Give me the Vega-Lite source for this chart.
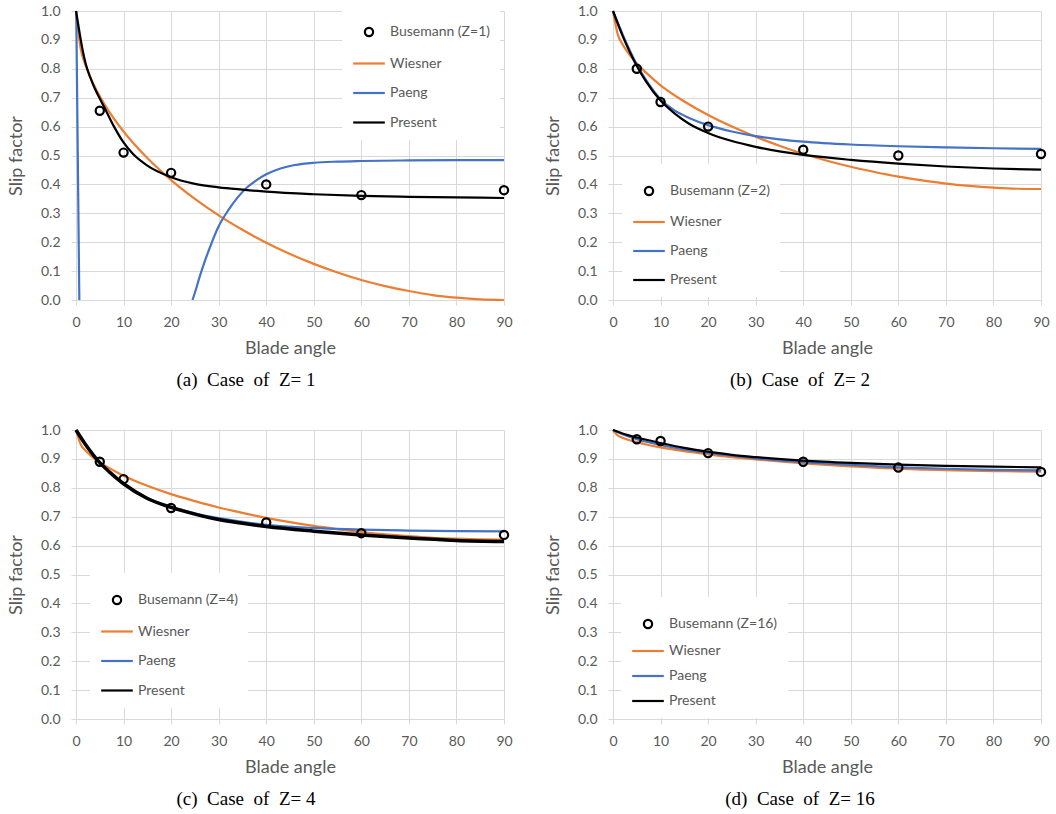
{
  "$schema": "https://vega.github.io/schema/vega-lite/v6.json",
  "padding": {"left": 7, "top": 4, "right": 0, "bottom": 0},
  "spacing": 33,
  "resolve": {"scale": {"color": "independent", "shape": "independent"}},
  "datasets": {
    "la": [
      {"series": "Wiesner", "a": 0, "s": 1.0}, {"series": "Wiesner", "a": 1, "s": 0.868}, {"series": "Wiesner", "a": 2, "s": 0.813}, {"series": "Wiesner", "a": 3, "s": 0.771}, {"series": "Wiesner", "a": 5, "s": 0.705}, {"series": "Wiesner", "a": 7, "s": 0.651}, {"series": "Wiesner", "a": 10, "s": 0.583}, {"series": "Wiesner", "a": 15, "s": 0.491}, {"series": "Wiesner", "a": 20, "s": 0.415}, {"series": "Wiesner", "a": 25, "s": 0.35}, {"series": "Wiesner", "a": 30, "s": 0.293}, {"series": "Wiesner", "a": 35, "s": 0.243}, {"series": "Wiesner", "a": 40, "s": 0.198}, {"series": "Wiesner", "a": 45, "s": 0.159}, {"series": "Wiesner", "a": 50, "s": 0.125}, {"series": "Wiesner", "a": 55, "s": 0.095}, {"series": "Wiesner", "a": 60, "s": 0.069}, {"series": "Wiesner", "a": 65, "s": 0.048}, {"series": "Wiesner", "a": 70, "s": 0.031}, {"series": "Wiesner", "a": 75, "s": 0.017}, {"series": "Wiesner", "a": 80, "s": 0.008}, {"series": "Wiesner", "a": 85, "s": 0.002}, {"series": "Wiesner", "a": 90, "s": 0.0},
      {"series": "Paeng", "seg": 1, "a": 0.05, "s": 1.0}, {"series": "Paeng", "seg": 1, "a": 0.7, "s": 0.0},
      {"series": "Paeng", "seg": 2, "a": 24.5, "s": 0.0}, {"series": "Paeng", "seg": 2, "a": 25, "s": 0.025}, {"series": "Paeng", "seg": 2, "a": 26, "s": 0.08}, {"series": "Paeng", "seg": 2, "a": 27, "s": 0.13}, {"series": "Paeng", "seg": 2, "a": 28, "s": 0.175}, {"series": "Paeng", "seg": 2, "a": 30, "s": 0.255}, {"series": "Paeng", "seg": 2, "a": 32, "s": 0.31}, {"series": "Paeng", "seg": 2, "a": 34, "s": 0.355}, {"series": "Paeng", "seg": 2, "a": 36, "s": 0.39}, {"series": "Paeng", "seg": 2, "a": 38, "s": 0.415}, {"series": "Paeng", "seg": 2, "a": 40, "s": 0.435}, {"series": "Paeng", "seg": 2, "a": 43, "s": 0.455}, {"series": "Paeng", "seg": 2, "a": 46, "s": 0.467}, {"series": "Paeng", "seg": 2, "a": 50, "s": 0.475}, {"series": "Paeng", "seg": 2, "a": 55, "s": 0.479}, {"series": "Paeng", "seg": 2, "a": 60, "s": 0.481}, {"series": "Paeng", "seg": 2, "a": 70, "s": 0.483}, {"series": "Paeng", "seg": 2, "a": 80, "s": 0.484}, {"series": "Paeng", "seg": 2, "a": 90, "s": 0.484},
      {"series": "Present", "a": 0, "s": 1.0}, {"series": "Present", "a": 0.5, "s": 0.95}, {"series": "Present", "a": 1, "s": 0.9}, {"series": "Present", "a": 2, "s": 0.82}, {"series": "Present", "a": 3, "s": 0.77}, {"series": "Present", "a": 4, "s": 0.73}, {"series": "Present", "a": 5, "s": 0.697}, {"series": "Present", "a": 6, "s": 0.665}, {"series": "Present", "a": 8, "s": 0.6}, {"series": "Present", "a": 10, "s": 0.545}, {"series": "Present", "a": 12, "s": 0.505}, {"series": "Present", "a": 15, "s": 0.465}, {"series": "Present", "a": 20, "s": 0.425}, {"series": "Present", "a": 25, "s": 0.402}, {"series": "Present", "a": 30, "s": 0.39}, {"series": "Present", "a": 35, "s": 0.382}, {"series": "Present", "a": 40, "s": 0.375}, {"series": "Present", "a": 50, "s": 0.366}, {"series": "Present", "a": 60, "s": 0.36}, {"series": "Present", "a": 70, "s": 0.357}, {"series": "Present", "a": 80, "s": 0.355}, {"series": "Present", "a": 90, "s": 0.353}
    ],
    "pa": [
      {"series": "Busemann (Z=1)", "a": 5, "s": 0.655}, {"series": "Busemann (Z=1)", "a": 10, "s": 0.51}, {"series": "Busemann (Z=1)", "a": 20, "s": 0.44}, {"series": "Busemann (Z=1)", "a": 40, "s": 0.40}, {"series": "Busemann (Z=1)", "a": 60, "s": 0.363}, {"series": "Busemann (Z=1)", "a": 90, "s": 0.38}
    ],
    "lb": [
      {"series": "Wiesner", "a": 0, "s": 1.0}, {"series": "Wiesner", "a": 1, "s": 0.919}, {"series": "Wiesner", "a": 2, "s": 0.885}, {"series": "Wiesner", "a": 3, "s": 0.859}, {"series": "Wiesner", "a": 5, "s": 0.818}, {"series": "Wiesner", "a": 7, "s": 0.786}, {"series": "Wiesner", "a": 10, "s": 0.743}, {"series": "Wiesner", "a": 15, "s": 0.687}, {"series": "Wiesner", "a": 20, "s": 0.64}, {"series": "Wiesner", "a": 25, "s": 0.6}, {"series": "Wiesner", "a": 30, "s": 0.565}, {"series": "Wiesner", "a": 35, "s": 0.534}, {"series": "Wiesner", "a": 40, "s": 0.506}, {"series": "Wiesner", "a": 45, "s": 0.482}, {"series": "Wiesner", "a": 50, "s": 0.461}, {"series": "Wiesner", "a": 55, "s": 0.443}, {"series": "Wiesner", "a": 60, "s": 0.427}, {"series": "Wiesner", "a": 65, "s": 0.414}, {"series": "Wiesner", "a": 70, "s": 0.403}, {"series": "Wiesner", "a": 75, "s": 0.395}, {"series": "Wiesner", "a": 80, "s": 0.389}, {"series": "Wiesner", "a": 85, "s": 0.385}, {"series": "Wiesner", "a": 90, "s": 0.384},
      {"series": "Paeng", "a": 0, "s": 1.0}, {"series": "Paeng", "a": 2, "s": 0.92}, {"series": "Paeng", "a": 5, "s": 0.815}, {"series": "Paeng", "a": 7, "s": 0.76}, {"series": "Paeng", "a": 10, "s": 0.695}, {"series": "Paeng", "a": 13, "s": 0.655}, {"series": "Paeng", "a": 16, "s": 0.63}, {"series": "Paeng", "a": 20, "s": 0.605}, {"series": "Paeng", "a": 25, "s": 0.583}, {"series": "Paeng", "a": 30, "s": 0.567}, {"series": "Paeng", "a": 35, "s": 0.556}, {"series": "Paeng", "a": 40, "s": 0.548}, {"series": "Paeng", "a": 50, "s": 0.538}, {"series": "Paeng", "a": 60, "s": 0.532}, {"series": "Paeng", "a": 70, "s": 0.528}, {"series": "Paeng", "a": 80, "s": 0.525}, {"series": "Paeng", "a": 90, "s": 0.523},
      {"series": "Present", "a": 0, "s": 1.0}, {"series": "Present", "a": 2, "s": 0.915}, {"series": "Present", "a": 5, "s": 0.81}, {"series": "Present", "a": 7, "s": 0.755}, {"series": "Present", "a": 10, "s": 0.69}, {"series": "Present", "a": 13, "s": 0.645}, {"series": "Present", "a": 16, "s": 0.61}, {"series": "Present", "a": 20, "s": 0.578}, {"series": "Present", "a": 25, "s": 0.55}, {"series": "Present", "a": 30, "s": 0.53}, {"series": "Present", "a": 35, "s": 0.514}, {"series": "Present", "a": 40, "s": 0.502}, {"series": "Present", "a": 50, "s": 0.485}, {"series": "Present", "a": 60, "s": 0.472}, {"series": "Present", "a": 70, "s": 0.462}, {"series": "Present", "a": 80, "s": 0.455}, {"series": "Present", "a": 90, "s": 0.451}
    ],
    "pb": [
      {"series": "Busemann (Z=2)", "a": 5, "s": 0.80}, {"series": "Busemann (Z=2)", "a": 10, "s": 0.685}, {"series": "Busemann (Z=2)", "a": 20, "s": 0.60}, {"series": "Busemann (Z=2)", "a": 40, "s": 0.52}, {"series": "Busemann (Z=2)", "a": 60, "s": 0.50}, {"series": "Busemann (Z=2)", "a": 90, "s": 0.505}
    ],
    "lc": [
      {"series": "Wiesner", "a": 0, "s": 1.0}, {"series": "Wiesner", "a": 1, "s": 0.95}, {"series": "Wiesner", "a": 2, "s": 0.929}, {"series": "Wiesner", "a": 3, "s": 0.913}, {"series": "Wiesner", "a": 5, "s": 0.888}, {"series": "Wiesner", "a": 7, "s": 0.868}, {"series": "Wiesner", "a": 10, "s": 0.842}, {"series": "Wiesner", "a": 15, "s": 0.807}, {"series": "Wiesner", "a": 20, "s": 0.778}, {"series": "Wiesner", "a": 25, "s": 0.754}, {"series": "Wiesner", "a": 30, "s": 0.732}, {"series": "Wiesner", "a": 35, "s": 0.713}, {"series": "Wiesner", "a": 40, "s": 0.696}, {"series": "Wiesner", "a": 45, "s": 0.681}, {"series": "Wiesner", "a": 50, "s": 0.668}, {"series": "Wiesner", "a": 55, "s": 0.657}, {"series": "Wiesner", "a": 60, "s": 0.647}, {"series": "Wiesner", "a": 65, "s": 0.639}, {"series": "Wiesner", "a": 70, "s": 0.633}, {"series": "Wiesner", "a": 75, "s": 0.627}, {"series": "Wiesner", "a": 80, "s": 0.624}, {"series": "Wiesner", "a": 85, "s": 0.622}, {"series": "Wiesner", "a": 90, "s": 0.621},
      {"series": "Paeng", "a": 0, "s": 1.0}, {"series": "Paeng", "a": 2, "s": 0.95}, {"series": "Paeng", "a": 5, "s": 0.887}, {"series": "Paeng", "a": 7, "s": 0.855}, {"series": "Paeng", "a": 10, "s": 0.815}, {"series": "Paeng", "a": 15, "s": 0.765}, {"series": "Paeng", "a": 20, "s": 0.735}, {"series": "Paeng", "a": 25, "s": 0.712}, {"series": "Paeng", "a": 30, "s": 0.695}, {"series": "Paeng", "a": 35, "s": 0.682}, {"series": "Paeng", "a": 40, "s": 0.672}, {"series": "Paeng", "a": 50, "s": 0.661}, {"series": "Paeng", "a": 60, "s": 0.655}, {"series": "Paeng", "a": 70, "s": 0.652}, {"series": "Paeng", "a": 80, "s": 0.65}, {"series": "Paeng", "a": 90, "s": 0.649},
      {"series": "Present", "a": 0, "s": 1.0}, {"series": "Present", "a": 2, "s": 0.95}, {"series": "Present", "a": 5, "s": 0.887}, {"series": "Present", "a": 7, "s": 0.855}, {"series": "Present", "a": 10, "s": 0.814}, {"series": "Present", "a": 15, "s": 0.763}, {"series": "Present", "a": 20, "s": 0.732}, {"series": "Present", "a": 25, "s": 0.709}, {"series": "Present", "a": 30, "s": 0.69}, {"series": "Present", "a": 35, "s": 0.677}, {"series": "Present", "a": 40, "s": 0.666}, {"series": "Present", "a": 50, "s": 0.65}, {"series": "Present", "a": 60, "s": 0.637}, {"series": "Present", "a": 70, "s": 0.626}, {"series": "Present", "a": 80, "s": 0.618}, {"series": "Present", "a": 90, "s": 0.614}
    ],
    "pc": [
      {"series": "Busemann (Z=4)", "a": 5, "s": 0.89}, {"series": "Busemann (Z=4)", "a": 10, "s": 0.83}, {"series": "Busemann (Z=4)", "a": 20, "s": 0.73}, {"series": "Busemann (Z=4)", "a": 40, "s": 0.68}, {"series": "Busemann (Z=4)", "a": 60, "s": 0.643}, {"series": "Busemann (Z=4)", "a": 90, "s": 0.637}
    ],
    "ld": [
      {"series": "Wiesner", "a": 0, "s": 1.0}, {"series": "Wiesner", "a": 1, "s": 0.981}, {"series": "Wiesner", "a": 2, "s": 0.973}, {"series": "Wiesner", "a": 3, "s": 0.967}, {"series": "Wiesner", "a": 5, "s": 0.958}, {"series": "Wiesner", "a": 7, "s": 0.95}, {"series": "Wiesner", "a": 10, "s": 0.94}, {"series": "Wiesner", "a": 15, "s": 0.927}, {"series": "Wiesner", "a": 20, "s": 0.916}, {"series": "Wiesner", "a": 25, "s": 0.906}, {"series": "Wiesner", "a": 30, "s": 0.898}, {"series": "Wiesner", "a": 35, "s": 0.891}, {"series": "Wiesner", "a": 40, "s": 0.885}, {"series": "Wiesner", "a": 45, "s": 0.879}, {"series": "Wiesner", "a": 50, "s": 0.874}, {"series": "Wiesner", "a": 55, "s": 0.87}, {"series": "Wiesner", "a": 60, "s": 0.866}, {"series": "Wiesner", "a": 65, "s": 0.863}, {"series": "Wiesner", "a": 70, "s": 0.861}, {"series": "Wiesner", "a": 75, "s": 0.859}, {"series": "Wiesner", "a": 80, "s": 0.858}, {"series": "Wiesner", "a": 85, "s": 0.857}, {"series": "Wiesner", "a": 90, "s": 0.856},
      {"series": "Paeng", "a": 0, "s": 1.0}, {"series": "Paeng", "a": 2, "s": 0.985}, {"series": "Paeng", "a": 5, "s": 0.968}, {"series": "Paeng", "a": 10, "s": 0.948}, {"series": "Paeng", "a": 15, "s": 0.933}, {"series": "Paeng", "a": 20, "s": 0.921}, {"series": "Paeng", "a": 25, "s": 0.911}, {"series": "Paeng", "a": 30, "s": 0.902}, {"series": "Paeng", "a": 40, "s": 0.889}, {"series": "Paeng", "a": 50, "s": 0.879}, {"series": "Paeng", "a": 60, "s": 0.871}, {"series": "Paeng", "a": 70, "s": 0.866}, {"series": "Paeng", "a": 80, "s": 0.862}, {"series": "Paeng", "a": 90, "s": 0.86},
      {"series": "Present", "a": 0, "s": 1.0}, {"series": "Present", "a": 2, "s": 0.988}, {"series": "Present", "a": 5, "s": 0.974}, {"series": "Present", "a": 10, "s": 0.955}, {"series": "Present", "a": 15, "s": 0.938}, {"series": "Present", "a": 20, "s": 0.925}, {"series": "Present", "a": 25, "s": 0.914}, {"series": "Present", "a": 30, "s": 0.906}, {"series": "Present", "a": 40, "s": 0.894}, {"series": "Present", "a": 50, "s": 0.886}, {"series": "Present", "a": 60, "s": 0.88}, {"series": "Present", "a": 70, "s": 0.876}, {"series": "Present", "a": 80, "s": 0.873}, {"series": "Present", "a": 90, "s": 0.871}
    ],
    "pd": [
      {"series": "Busemann (Z=16)", "a": 5, "s": 0.968}, {"series": "Busemann (Z=16)", "a": 10, "s": 0.962}, {"series": "Busemann (Z=16)", "a": 20, "s": 0.92}, {"series": "Busemann (Z=16)", "a": 40, "s": 0.89}, {"series": "Busemann (Z=16)", "a": 60, "s": 0.87}, {"series": "Busemann (Z=16)", "a": 90, "s": 0.855}
    ]
  },
  "vconcat": [
    {
      "hconcat": [
        {
          "width": 428, "height": 289,
          "title": {"text": "(a)\u00a0 Case\u00a0 of\u00a0 Z=\u00a01", "dx": -14},
          "layer": [
            {"data": {"name": "la"}, "mark": {"type": "line", "strokeWidth": 2.2, "interpolate": "monotone"},
             "encoding": {
               "x": {"field": "a", "type": "quantitative", "scale": {"domain": [0, 90], "nice": false}, "title": "Blade angle"},
               "y": {"field": "s", "type": "quantitative", "scale": {"domain": [0, 1], "nice": false}, "title": "Slip factor"},
               "color": {"field": "series", "type": "nominal", "scale": {"domain": ["Busemann (Z=1)", "Wiesner", "Paeng", "Present"], "range": ["black", "#ED7D31", "#4472C4", "black"]}, "legend": {"legendX": 266, "legendY": -6}},
               "detail": {"field": "seg"}
             }},
            {"data": {"name": "pa"}, "mark": {"type": "point", "filled": false, "strokeWidth": 2.2, "size": 1000, "opacity": 1},
             "encoding": {
               "x": {"field": "a", "type": "quantitative"},
               "y": {"field": "s", "type": "quantitative"},
               "color": {"field": "series", "type": "nominal", "scale": {"domain": ["Busemann (Z=1)", "Wiesner", "Paeng", "Present"], "range": ["black", "#ED7D31", "#4472C4", "black"]}, "legend": {"legendX": 266, "legendY": -6}},
               "shape": {"field": "series", "type": "nominal", "scale": {"domain": ["Busemann (Z=1)", "Wiesner", "Paeng", "Present"], "range": ["M0.26,0A0.26,0.26,0,1,1,-0.26,0A0.26,0.26,0,1,1,0.26,0Z", "stroke", "stroke", "stroke"]}, "legend": {"legendX": 266, "legendY": -6}}
             }}
          ]
        },
        {
          "width": 428, "height": 289,
          "title": {"text": "(b)\u00a0 Case\u00a0 of\u00a0 Z=\u00a02", "dx": 3},
          "layer": [
            {"data": {"name": "lb"}, "mark": {"type": "line", "strokeWidth": 2.2, "interpolate": "monotone"},
             "encoding": {
               "x": {"field": "a", "type": "quantitative", "scale": {"domain": [0, 90], "nice": false}, "title": "Blade angle"},
               "y": {"field": "s", "type": "quantitative", "scale": {"domain": [0, 1], "nice": false}, "title": "Slip factor"},
               "color": {"field": "series", "type": "nominal", "scale": {"domain": ["Busemann (Z=2)", "Wiesner", "Paeng", "Present"], "range": ["black", "#ED7D31", "#4472C4", "black"]}, "legend": {"legendX": 9, "legendY": 153, "rowPadding": 5}}
             }},
            {"data": {"name": "pb"}, "mark": {"type": "point", "filled": false, "strokeWidth": 2.2, "size": 1000, "opacity": 1},
             "encoding": {
               "x": {"field": "a", "type": "quantitative"},
               "y": {"field": "s", "type": "quantitative"},
               "color": {"field": "series", "type": "nominal", "scale": {"domain": ["Busemann (Z=2)", "Wiesner", "Paeng", "Present"], "range": ["black", "#ED7D31", "#4472C4", "black"]}, "legend": {"legendX": 9, "legendY": 153, "rowPadding": 5}},
               "shape": {"field": "series", "type": "nominal", "scale": {"domain": ["Busemann (Z=2)", "Wiesner", "Paeng", "Present"], "range": ["M0.26,0A0.26,0.26,0,1,1,-0.26,0A0.26,0.26,0,1,1,0.26,0Z", "stroke", "stroke", "stroke"]}, "legend": {"legendX": 9, "legendY": 153, "rowPadding": 5}}
             }}
          ]
        }
      ],
      "spacing": 31,
      "resolve": {"scale": {"color": "independent", "shape": "independent"}}
    },
    {
      "hconcat": [
        {
          "width": 428, "height": 289,
          "title": {"text": "(c)\u00a0 Case\u00a0 of\u00a0 Z=\u00a04", "dx": -14},
          "layer": [
            {"data": {"name": "lc"}, "transform": [{"filter": "datum.series !== 'Present'"}], "mark": {"type": "line", "strokeWidth": 2.2, "interpolate": "monotone"},
             "encoding": {
               "x": {"field": "a", "type": "quantitative", "scale": {"domain": [0, 90], "nice": false}, "title": "Blade angle"},
               "y": {"field": "s", "type": "quantitative", "scale": {"domain": [0, 1], "nice": false}, "title": "Slip factor"},
               "color": {"field": "series", "type": "nominal", "scale": {"domain": ["Busemann (Z=4)", "Wiesner", "Paeng", "Present"], "range": ["black", "#ED7D31", "#4472C4", "black"]}, "legend": {"legendX": 14, "legendY": 143}}
             }},
            {"data": {"name": "lc"}, "transform": [{"filter": "datum.series === 'Present'"}], "mark": {"type": "line", "strokeWidth": 3.5, "interpolate": "monotone"},
             "encoding": {
               "x": {"field": "a", "type": "quantitative"},
               "y": {"field": "s", "type": "quantitative"},
               "color": {"field": "series", "type": "nominal", "scale": {"domain": ["Busemann (Z=4)", "Wiesner", "Paeng", "Present"], "range": ["black", "#ED7D31", "#4472C4", "black"]}, "legend": {"legendX": 14, "legendY": 143}}
             }},
            {"data": {"name": "pc"}, "mark": {"type": "point", "filled": false, "strokeWidth": 2.2, "size": 1000, "opacity": 1},
             "encoding": {
               "x": {"field": "a", "type": "quantitative"},
               "y": {"field": "s", "type": "quantitative"},
               "color": {"field": "series", "type": "nominal", "scale": {"domain": ["Busemann (Z=4)", "Wiesner", "Paeng", "Present"], "range": ["black", "#ED7D31", "#4472C4", "black"]}, "legend": {"legendX": 14, "legendY": 143}},
               "shape": {"field": "series", "type": "nominal", "scale": {"domain": ["Busemann (Z=4)", "Wiesner", "Paeng", "Present"], "range": ["M0.26,0A0.26,0.26,0,1,1,-0.26,0A0.26,0.26,0,1,1,0.26,0Z", "stroke", "stroke", "stroke"]}, "legend": {"legendX": 14, "legendY": 143}}
             }}
          ]
        },
        {
          "width": 428, "height": 289,
          "title": {"text": "(d)\u00a0 Case\u00a0 of\u00a0 Z=\u00a016", "dx": 3},
          "layer": [
            {"data": {"name": "ld"}, "mark": {"type": "line", "strokeWidth": 2.2, "interpolate": "monotone"},
             "encoding": {
               "x": {"field": "a", "type": "quantitative", "scale": {"domain": [0, 90], "nice": false}, "title": "Blade angle"},
               "y": {"field": "s", "type": "quantitative", "scale": {"domain": [0, 1], "nice": false}, "title": "Slip factor"},
               "color": {"field": "series", "type": "nominal", "scale": {"domain": ["Busemann (Z=16)", "Wiesner", "Paeng", "Present"], "range": ["black", "#ED7D31", "#4472C4", "black"]}, "legend": {"legendX": 8, "legendY": 167, "rowPadding": 1}}
             }},
            {"data": {"name": "pd"}, "mark": {"type": "point", "filled": false, "strokeWidth": 2.2, "size": 1000, "opacity": 1},
             "encoding": {
               "x": {"field": "a", "type": "quantitative"},
               "y": {"field": "s", "type": "quantitative"},
               "color": {"field": "series", "type": "nominal", "scale": {"domain": ["Busemann (Z=16)", "Wiesner", "Paeng", "Present"], "range": ["black", "#ED7D31", "#4472C4", "black"]}, "legend": {"legendX": 8, "legendY": 167, "rowPadding": 1}},
               "shape": {"field": "series", "type": "nominal", "scale": {"domain": ["Busemann (Z=16)", "Wiesner", "Paeng", "Present"], "range": ["M0.26,0A0.26,0.26,0,1,1,-0.26,0A0.26,0.26,0,1,1,0.26,0Z", "stroke", "stroke", "stroke"]}, "legend": {"legendX": 8, "legendY": 167, "rowPadding": 1}}
             }}
          ]
        }
      ],
      "spacing": 31,
      "resolve": {"scale": {"color": "independent", "shape": "independent"}}
    }
  ],
  "config": {
    "view": {"stroke": null},
    "title": {"orient": "bottom", "anchor": "middle", "frame": "bounds", "font": "Liberation Serif", "fontSize": 19, "fontWeight": "normal", "color": "black", "offset": 14},
    "axis": {"labelFont": "Lato", "titleFont": "Lato", "labelColor": "#595959", "titleColor": "#595959", "labelFontSize": 14, "titleFontSize": 18, "titleFontWeight": "normal", "gridColor": "#d9d9d9", "domainColor": "#d9d9d9", "tickColor": "#d9d9d9", "tickSize": 5},
    "axisX": {"values": [0, 10, 20, 30, 40, 50, 60, 70, 80, 90], "labelPadding": 10, "titlePadding": 10, "labelFlush": false},
    "axisY": {"values": [0, 0.1, 0.2, 0.3, 0.4, 0.5, 0.6, 0.7, 0.8, 0.9, 1.0], "format": ".1f", "labelPadding": 11, "titlePadding": 15},
    "legend": {"orient": "none", "title": null, "labelFont": "Lato", "labelFontSize": 14, "labelColor": "#595959", "fillColor": "white", "padding": 10, "symbolSize": 1000, "symbolStrokeWidth": 2.2, "rowPadding": 5.5, "labelOffset": 4}
  }
}
